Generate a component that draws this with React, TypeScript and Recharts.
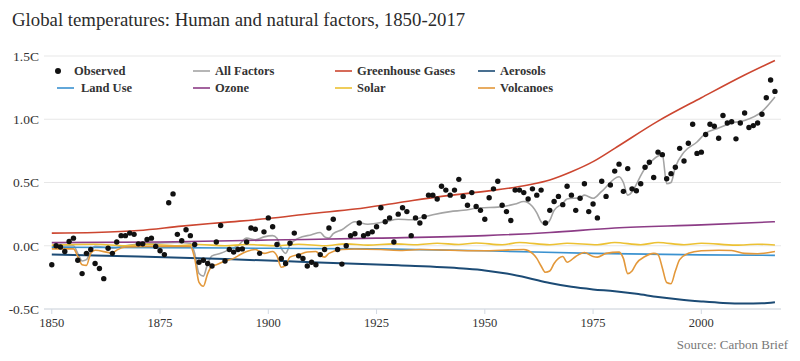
import { CartesianGrid, ComposedChart, Line, Scatter, XAxis, YAxis } from "recharts";

const SERIF = '"Liberation Serif", "Times New Roman", Times, serif';

const FIRST_YEAR = 1850;

// observed annual temperature, 1850-2017, one row per decade
const observed = [
  -0.15, 0.0, -0.01, -0.045, 0.034, 0.06, -0.115, -0.22, -0.06, -0.03,
  -0.14, -0.18, -0.26, -0.02, -0.06, 0.03, 0.08, 0.08, 0.1, 0.09,
  0.015, 0.015, 0.05, 0.06, -0.005, -0.04, -0.07, 0.34, 0.41, 0.09,
  0.04, 0.126, 0.08, 0.01, -0.13, -0.115, -0.14, -0.16, 0.03, 0.16,
  -0.12, -0.03, -0.05, -0.03, -0.025, 0.03, 0.14, 0.13, -0.06, 0.11,
  0.22, 0.15, 0.01, -0.1, -0.14, 0.02, 0.1, -0.08, -0.1, -0.16,
  -0.13, -0.15, -0.07, -0.03, 0.14, 0.21, -0.03, -0.145, 0.0, 0.08,
  0.095, 0.18, 0.08, 0.095, 0.11, 0.15, 0.3, 0.19, 0.22, 0.03,
  0.25, 0.3, 0.27, 0.08, 0.22, 0.18, 0.23, 0.4, 0.4, 0.37,
  0.47, 0.44, 0.4, 0.44, 0.525, 0.39, 0.32, 0.42, 0.31, 0.28,
  0.21, 0.38, 0.45, 0.51, 0.32, 0.27, 0.2, 0.44, 0.44, 0.42,
  0.37, 0.45, 0.4, 0.44, 0.18, 0.28, 0.35, 0.39, 0.325, 0.47,
  0.4, 0.28, 0.375, 0.49, 0.27, 0.33, 0.22, 0.51, 0.39, 0.48,
  0.59, 0.645, 0.43, 0.61, 0.45, 0.435, 0.49, 0.62, 0.66, 0.54,
  0.74, 0.72, 0.53, 0.57, 0.62, 0.77, 0.67, 0.81, 0.96, 0.73,
  0.74, 0.88, 0.96, 0.945, 0.85, 1.03, 0.97, 0.98, 0.845, 0.97,
  1.05, 0.935, 0.95, 0.97, 1.04, 1.17, 1.31, 1.22,
];

// [year, °C] readings for each factor
const allFactors: [number, number][] = [
  [1850, -0.01], [1855, 0.0], [1856, -0.06], [1857, -0.12], [1858, -0.11], [1859, -0.04],
  [1860, -0.005], [1864, -0.02], [1867, 0.0], [1872, 0.015], [1879, 0.026], [1882, 0.02],
  [1883, -0.06], [1884, -0.22], [1885, -0.24], [1886, -0.14], [1887, -0.08], [1889, -0.06],
  [1891, -0.03], [1893, 0.0], [1895, 0.06], [1897, 0.047], [1899, 0.07], [1901, 0.08],
  [1902, 0.06], [1903, -0.02], [1904, -0.06], [1905, 0.008], [1907, 0.06], [1910, 0.087],
  [1912, 0.105], [1913, 0.07], [1914, 0.06], [1915, 0.095], [1917, 0.126], [1920, 0.19],
  [1923, 0.17], [1927, 0.19], [1930, 0.21], [1933, 0.205], [1935, 0.22], [1938, 0.245],
  [1942, 0.27], [1945, 0.28], [1949, 0.3], [1953, 0.305], [1957, 0.33], [1959, 0.35],
  [1961, 0.31], [1962, 0.26], [1963, 0.19], [1964, 0.165], [1965, 0.2], [1966, 0.28],
  [1968, 0.335], [1969, 0.37], [1972, 0.38], [1973, 0.4], [1975, 0.375], [1977, 0.43],
  [1981, 0.545], [1982, 0.5], [1983, 0.4], [1987, 0.61], [1990, 0.71], [1991, 0.72],
  [1992, 0.49], [1993, 0.5], [1994, 0.62], [1996, 0.74], [1999, 0.82], [2001, 0.89],
  [2004, 0.93], [2007, 0.97], [2010, 0.99], [2014, 1.06], [2017, 1.175],
];

const greenhouse: [number, number][] = [
  [1850, 0.1], [1860, 0.105], [1870, 0.12], [1880, 0.155], [1890, 0.185], [1900, 0.215],
  [1910, 0.255], [1920, 0.29], [1930, 0.34], [1940, 0.39], [1950, 0.43], [1960, 0.48],
  [1965, 0.52], [1970, 0.585], [1975, 0.665], [1980, 0.77], [1990, 0.985], [2000, 1.17],
  [2010, 1.35], [2017, 1.465],
];

const aerosols: [number, number][] = [
  [1850, -0.07], [1870, -0.085], [1890, -0.105], [1910, -0.13], [1930, -0.155], [1945, -0.18],
  [1950, -0.195], [1955, -0.22], [1960, -0.255], [1965, -0.295], [1970, -0.325], [1975, -0.345],
  [1980, -0.36], [1985, -0.38], [1990, -0.405], [1995, -0.425], [2000, -0.44], [2005, -0.452],
  [2010, -0.457], [2014, -0.455], [2017, -0.447],
];

const landUse: [number, number][] = [
  [1850, -0.012], [1875, -0.015], [1900, -0.02], [1925, -0.025], [1950, -0.04],
  [1975, -0.06], [2000, -0.072], [2017, -0.076],
];

const ozone: [number, number][] = [
  [1850, 0.025], [1875, 0.03], [1900, 0.045], [1925, 0.06], [1950, 0.08], [1965, 0.105],
  [1980, 0.14], [2000, 0.165], [2017, 0.19],
];

const solar: [number, number][] = [
  [1850, 0.005], [1860, 0.012], [1867, 0.0], [1872, 0.012], [1879, 0.0], [1884, 0.01],
  [1890, 0.0], [1895, 0.01], [1902, 0.0], [1907, 0.012], [1913, 0.0], [1918, 0.015],
  [1923, 0.005], [1929, 0.015], [1934, 0.008], [1939, 0.02], [1944, 0.01], [1948, 0.022],
  [1954, 0.008], [1958, 0.026], [1965, 0.008], [1969, 0.02], [1976, 0.008], [1980, 0.026],
  [1986, 0.008], [1990, 0.026], [1996, 0.008], [2000, 0.02], [2008, 0.005], [2013, 0.012],
  [2017, 0.006],
];

const volcanoes: [number, number][] = [
  [1850, -0.025], [1855, -0.025], [1856, -0.085], [1857, -0.15], [1858, -0.155], [1859, -0.06],
  [1860, -0.035], [1864, -0.058], [1865, -0.035], [1867, -0.01], [1872, -0.005], [1882, -0.005],
  [1883, -0.1], [1884, -0.29], [1885, -0.32], [1886, -0.22], [1887, -0.16], [1888, -0.15],
  [1890, -0.12], [1892, -0.1], [1893, -0.08], [1895, -0.045], [1897, -0.03], [1899, -0.06],
  [1901, -0.045], [1902, -0.08], [1903, -0.17], [1904, -0.155], [1905, -0.09], [1907, -0.07],
  [1909, -0.05], [1911, -0.045], [1912, -0.075], [1913, -0.09], [1914, -0.06], [1917, -0.03],
  [1920, -0.026], [1926, -0.03], [1931, -0.037], [1935, -0.03], [1949, -0.04], [1959, -0.03],
  [1961, -0.06], [1962, -0.1], [1963, -0.16], [1964, -0.21], [1965, -0.2], [1966, -0.14],
  [1968, -0.085], [1969, -0.13], [1971, -0.085], [1973, -0.053], [1975, -0.085], [1976, -0.09],
  [1978, -0.06], [1981, -0.05], [1982, -0.1], [1983, -0.22], [1984, -0.2], [1985, -0.14],
  [1987, -0.085], [1989, -0.06], [1990, -0.07], [1991, -0.175], [1992, -0.29], [1993, -0.3],
  [1994, -0.2], [1995, -0.11], [1997, -0.06], [2000, -0.04], [2004, -0.035], [2007, -0.037],
  [2010, -0.06], [2013, -0.063], [2017, -0.045],
];

const xTicks = [1850, 1875, 1900, 1925, 1950, 1975, 2000];
const yTicks = [-0.5, 0, 0.5, 1, 1.5];

const series = [
  { name: "All Factors", color: "#a4a4a4", rows: allFactors },
  { name: "Greenhouse Gases", color: "#cc4630", rows: greenhouse },
  { name: "Aerosols", color: "#1c4b75", rows: aerosols },
  { name: "Land Use", color: "#3b92d0", rows: landUse },
  { name: "Ozone", color: "#8c3c86", rows: ozone },
  { name: "Solar", color: "#ecc133", rows: solar },
  { name: "Volcanoes", color: "#e3983a", rows: volcanoes },
];

const colorOf = (name: string) => series.find((s) => s.name === name)?.color ?? "#000";

// legend slots: [label, left of marker]
const legendRows = [
  [["Observed", 54], ["All Factors", 193], ["Greenhouse Gases", 335], ["Aerosols", 478]],
  [["Land Use", 57], ["Ozone", 193], ["Solar", 335], ["Volcanoes", 478]],
] as [string, number][][];

const obsPoints = observed.map((v, i) => ({ year: FIRST_YEAR + i, v }));
const toPoints = (rows: [number, number][]) => rows.map(([year, v]) => ({ year, v }));

const renderDot = (props: any) => <circle cx={props.cx} cy={props.cy} r={2.7} fill="#111" />;

function ChartLegend() {
  return (
    <>
      {legendRows.map((row, r) =>
        row.map(([label, left]) => {
          const top = r === 0 ? 63 : 80;
          const isObs = label === "Observed";
          return (
            <div
              key={label}
              style={{ position: "absolute", left, top, height: 16, display: "flex", alignItems: "center" }}
            >
              {isObs ? (
                <span style={{ width: 6, height: 6, borderRadius: 3, background: "#111", margin: "0 13px 0 1px" }} />
              ) : (
                <svg width={17} height={4} style={{ marginRight: label === "Land Use" ? 7 : 5 }}>
                  <line x1={0} y1={2} x2={17} y2={2} stroke={colorOf(label)} strokeWidth={1.6} />
                </svg>
              )}
              <span style={{ fontFamily: SERIF, fontWeight: 700, fontSize: 12.5, color: "#333", whiteSpace: "nowrap" }}>
                {label}
              </span>
            </div>
          );
        }),
      )}
    </>
  );
}

export default function App() {
  return (
    <div style={{ position: "absolute", left: 0, top: 0, width: 800, height: 361, background: "#fff" }}>
      <div
        style={{
          position: "absolute",
          left: 12,
          top: 10,
          fontFamily: SERIF,
          fontSize: 18.8,
          lineHeight: "19px",
          color: "#2b2b2b",
          whiteSpace: "nowrap",
        }}
      >
        Global temperatures: Human and natural factors, 1850-2017
      </div>

      <ComposedChart width={800} height={361} margin={{ top: 56, right: 19, bottom: 22, left: 0 }}>
        <CartesianGrid vertical={false} stroke="#e7e7e7" />
        <XAxis
          type="number"
          dataKey="year"
          domain={[1848.2, 2018.4]}
          ticks={xTicks}
          allowDataOverflow
          height={30}
          tickSize={5}
          tickMargin={4}
          stroke="#d3dae3"
          tick={{ fill: "#333", fontSize: 12.5, fontFamily: SERIF }}
        />
        <YAxis
          type="number"
          domain={[-0.5, 1.5]}
          ticks={yTicks}
          width={44}
          axisLine={false}
          tickLine={false}
          tickSize={3}
          tickMargin={2}
          tickFormatter={(v: number) => `${v.toFixed(1)}C`}
          tick={{ fill: "#333", fontSize: 13.5, fontFamily: SERIF }}
        />
        <Scatter data={obsPoints} dataKey="v" shape={renderDot} isAnimationActive={false} />
        {series.map((s) => (
          <Line
            key={s.name}
            data={toPoints(s.rows)}
            dataKey="v"
            type="monotone"
            stroke={s.color}
            strokeWidth={s.name === "Aerosols" ? 2 : 1.6}
            dot={false}
            activeDot={false}
            isAnimationActive={false}
          />
        ))}
      </ComposedChart>

      <ChartLegend />

      <div
        style={{
          position: "absolute",
          right: 12,
          top: 337,
          fontFamily: SERIF,
          fontSize: 13,
          lineHeight: "16px",
          color: "#777",
          whiteSpace: "nowrap",
        }}
      >
        Source: Carbon Brief
      </div>
    </div>
  );
}
